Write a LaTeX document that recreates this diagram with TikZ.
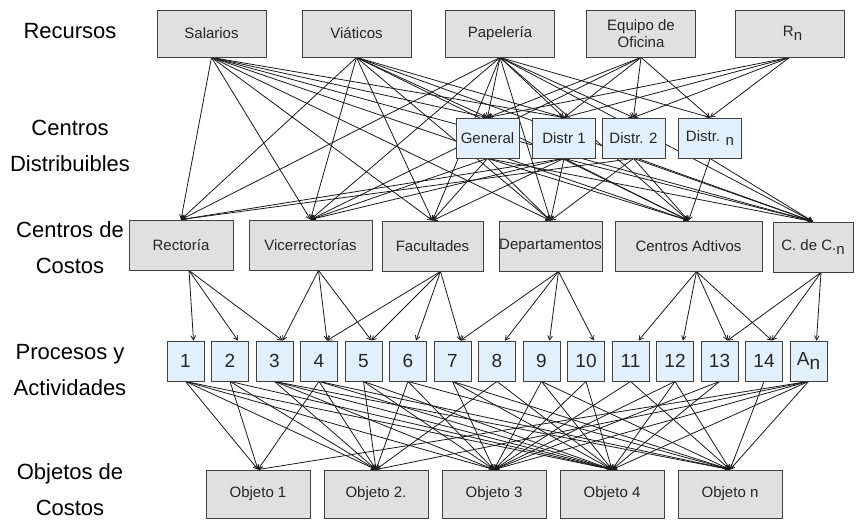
\documentclass[tikz,border=0pt]{standalone}
\usepackage{fontspec}
\setmainfont{Liberation Sans}
\usetikzlibrary{arrows,backgrounds}

\definecolor{boxgray}{RGB}{224,224,224}
\definecolor{boxblue}{RGB}{226,240,252}
\definecolor{boxline}{RGB}{64,64,64}
\definecolor{boxtext}{RGB}{38,38,38}

% lowered index letter, as in R_n
\newcommand{\low}[1]{\raisebox{-0.45ex}{#1}}

\begin{document}
\begin{tikzpicture}[x=1pt,y=-1pt,>=angle 60,
row label/.style={align=center,inner sep=0pt,font=\fontsize{22}{36}\selectfont},
box/.style={rectangle,draw=boxline,line width=0.9pt,inner sep=0pt,align=center,
  text=boxtext,font=\fontsize{15}{17}\selectfont},
res node/.style={box,fill=boxgray,minimum width=109pt,minimum height=47pt},
dist node/.style={box,fill=boxblue,minimum width=63pt,minimum height=40pt},
cost node/.style={box,fill=boxgray,minimum height=50pt},
proc node/.style={box,fill=boxblue,minimum width=37pt,minimum height=40pt,
  font=\fontsize{19}{21}\selectfont},
obj node/.style={box,fill=boxgray,minimum width=104pt,minimum height=48pt},
link/.style={->,black!90,line width=0.8pt}]
\useasboundingbox (0,0) rectangle (856,519);

% row labels
\node[row label] (l1) at (70,31) {Recursos};
\node[row label] (l2) at (70,146) {Centros\\Distribuibles};
\node[row label] (l3) at (70,248) {Centros de\\Costos};
\node[row label] (l4) at (70,370) {Procesos y\\Actividades};
\node[row label] (l5) at (70,490) {Objetos de\\Costos};

% resources
\node[res node] (sal) at (211.5,33.5) {Salarios};
\node[res node] (via) at (356.5,33.5) {Viáticos};
\node[res node] (pap) at (500,33.5) {Papelería};
\node[res node] (equ) at (641,33.5) {Equipo de\\Oficina};
\node[res node] (rn) at (789.5,33.5) {\hspace{6pt}R\low{n}};

% distributable centres
\node[dist node] (gen) at (487.5,138) {General};
\node[dist node] (d1) at (564,138) {Distr 1};
\node[dist node] (d2) at (633.5,138) {Distr. 2};
\node[dist node] (dn) at (710,138) {Distr. \low{n}};

% cost centres
\node[cost node,minimum width=104pt] (rec) at (181,245) {Rectoría};
\node[cost node,minimum width=123pt] (vic) at (310.5,245) {Vicerrectorías};
\node[cost node,minimum width=101pt] (fac) at (432.5,246) {Facultades};
\node[cost node,minimum width=103pt] (dep) at (550.5,246) {Departamentos};
\node[cost node,minimum width=147pt] (cad) at (688.5,246) {Centros Adtivos};
\node[cost node,minimum width=80pt] (cdc) at (813,247) {C. de C.\low{n}};

% processes and activities
\foreach \i in {1,...,14}
  \node[proc node] (p\i) at ({185.5+44.5*(\i-1)},361) {\i};
\node[proc node] (p15) at (808.5,361) {A\low{n}};

% cost objects
\foreach \i/\t in {1/Objeto 1,2/Objeto 2.,3/Objeto 3,4/Objeto 4,5/Objeto n}
  \node[obj node] (o\i) at ({258+118*(\i-1)},494) {\t};

\begin{pgfonlayer}{background}
% resources to centres
\foreach \s/\t in {sal/rec,sal/vic,sal/fac,sal/dep,sal/gen,sal/d1,sal/cad,sal/cdc,
    via/rec,via/vic,via/fac,via/dep,via/gen,via/d1,via/cad,via/cdc,
    pap/rec,pap/vic,pap/fac,pap/dep,pap/gen,pap/d1,pap/d2,pap/dn,pap/cad,pap/cdc,
    equ/vic,equ/gen,equ/d1,equ/d2,equ/dn,
    rn/gen,rn/d1,rn/d2,rn/dn}
  \draw[link] (\s.south) -- (\t.north);
% distributable centres to cost centres
\foreach \s/\t in {gen/vic,gen/fac,gen/dep,gen/cad,gen/cdc,
    d1/rec,d1/vic,d1/fac,d1/dep,d1/cad,d1/cdc,
    d2/rec,d2/dep,d2/cad,d2/cdc,
    dn/cad,dn/cdc}
  \draw[link] (\s.south) -- (\t.north);
% cost centres to processes
\foreach \s/\t in {rec/1,rec/2,rec/3,vic/3,vic/4,vic/5,fac/4,fac/5,fac/6,fac/7,
    dep/7,dep/8,dep/9,dep/10,cad/11,cad/12,cad/13,cad/14,cdc/13,cdc/14,cdc/15}
  \draw[link] ([xshift=8pt]\s.south) -- ([xshift=8pt]p\t.north);
% processes to cost objects
\foreach \s/\t in {1/1,1/2,1/3,1/4,2/1,2/2,2/4,3/2,3/3,3/4,3/5,4/1,4/2,4/4,4/5,
    5/2,5/3,5/4,6/2,6/3,6/5,7/3,7/4,7/5,8/2,8/4,9/3,9/4,9/5,10/3,10/4,
    11/3,11/5,12/3,12/4,12/5,13/3,13/4,14/5,15/1,15/2,15/3,15/4,15/5}
  \draw[link] (p\s.south) -- (o\t.north);
\end{pgfonlayer}
\end{tikzpicture}
\end{document}
